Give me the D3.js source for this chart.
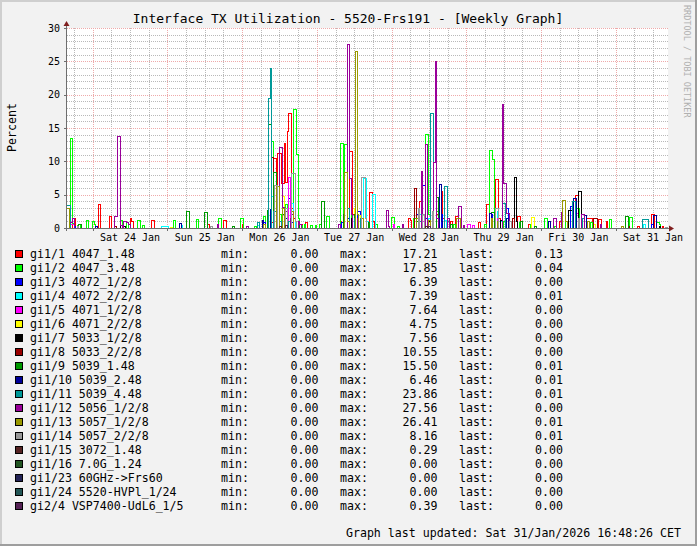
<!DOCTYPE html>
<html><head><meta charset="utf-8">
<script src="https://cdn.jsdelivr.net/npm/d3@7"></script>
<style>
html,body{margin:0;padding:0;background:#f2f2f2;}
svg{display:block;font-family:"DejaVu Sans Mono",monospace;}
</style></head>
<body><svg id="c" width="697" height="546"></svg>
<script>
// ---------- DATA (hours relative to Sat 24 Jan 2026 00:00, 30-min bins; unlisted bins are 0) ----------
const title = "Interface TX Utilization - 5520-Frs191 - [Weekly Graph]";
const yLabel = "Percent";
const yTicks = [0, 5, 10, 15, 20, 25, 30];
const dayLabels = ["Sat 24 Jan","Sun 25 Jan","Mon 26 Jan","Tue 27 Jan","Wed 28 Jan","Thu 29 Jan","Fri 30 Jan","Sat 31 Jan"];
const names = ["gi1/1 4047_1.48","gi1/2 4047_3.48","gi1/3 4072_1/2/8","gi1/4 4072_2/2/8","gi1/5 4071_1/2/8","gi1/6 4071_2/2/8","gi1/7 5033_1/2/8","gi1/8 5033_2/2/8","gi1/9 5039_1.48","gi1/10 5039_2.48","gi1/11 5039_4.48","gi1/12 5056_1/2/8","gi1/13 5057_1/2/8","gi1/14 5057_2/2/8","gi1/15 3072_1.48","gi1/16 7.0G_1.24","gi1/23 60GHz->Frs60","gi1/24 5520-HVPl_1/24","gi2/4 VSP7400-UdL6_1/5"];
const colors = ["#ff0000","#00ff00","#0000ff","#00ffff","#ff00ff","#ffff00","#000000","#990000","#009900","#000099","#009999","#990099","#999900","#999999","#552222","#225522","#222255","#225555","#552255"];
const minVals = ["0.00","0.00","0.00","0.00","0.00","0.00","0.00","0.00","0.00","0.00","0.00","0.00","0.00","0.00","0.00","0.00","0.00","0.00","0.00"];
const maxVals = ["17.21","17.85","6.39","7.39","7.64","4.75","7.56","10.55","15.50","6.46","23.86","27.56","26.41","8.16","0.29","0.00","0.00","0.00","0.39"];
const lastVals = ["0.13","0.04","0.00","0.01","0.00","0.00","0.00","0.00","0.01","0.01","0.01","0.00","0.01","0.01","0.00","0.00","0.00","0.00","0.00"];
const footer = "Graph last updated: Sat 31/Jan/2026 16:48:26 CET";
const watermark = "RRDTOOL / TOBI OETIKER";

const s_gi1_1 = [[-6.5,1.5],[-6,1.5],[2,3.5],[5.5,1.7],[12,1.4],[12.5,1.0],[19,1.2],[19.5,1.2],[37,0.6],[42,1.1],[42.5,1.1],[48,0.5],[54.5,1.2],
 [57.5,0.8],[58,10.5],[58.5,10.5],[59,4.7],[59.5,11.2],[60,11.2],[60.5,6.7],[61,6.7],[61.5,12.7],[62,6.8],[62.5,14.5],[63,17.21],[63.5,17.21],[64,3.0],[64.5,1.5],[65,0.8],[66,1.0],[67,0.5],[68.5,0.8],
 [73,0.6],[79.5,1.0],[82.5,11.45],[83,11.45],[83.5,2.0],[85,1.5],[86,1.0],[89,5.35],[89.5,5.35],[90,1.0],
 [101.5,1.5],[102,1.2],[105,4.0],[110.5,2.0],[112,5.45],[112.5,1.5],[115,1.0],[116.5,1.7],[117,1.7],
 [124,0.8],[126.5,3.6],[127,3.6],[129.5,7.3],[130,7.3],[130.5,1.5],[134,1.0],[136.5,1.7],[137,1.7],[140,0.5],
 [150,1.0],[155,4.95],[155.5,4.95],[158.5,1.5],[159,1.5],[159.5,1.5],[160,1.5],[162.5,1.3],[163,1.3],[165,1.0],[175,0.3],[179.5,2.1],[180,2.1],[183,0.3],[184,0.13],[184.5,0.13]];
const s_gi1_2 = [[-7.5,1.2],[-7,13.45],[-6.5,0.7],[-5,0.4],[-4,0.5],[-2,1.2],[0,1.0],[0.5,0.6],[9,1.2],[11,0.8],[14.5,1.2],[15,1.2],[16,0.4],[26,1.2],[33.5,1.3],[40.5,1.4],[41,1.4],[47.5,1.4],[48,1.4],[52,0.3],
 [55,1.7],[57.5,13.0],[58,1.3],[60,2.0],[62,3.5],[64.5,17.85],[65,17.85],[65.5,11.0],[66,1.5],[67,0.4],[68,0.5],[70,0.4],[71.5,0.4],[73,0.5],
 [75,1.7],[75.5,1.7],[79.5,12.7],[80,12.7],[81,12.5],[81.5,12.5],[83,2.0],[86,1.5],[88,1.0],[91,0.5],[96,1.6],[96.5,1.6],
 [98,0.3],[103,1.5],[103.5,1.5],[107,14.0],[107.5,14.0],[108,2.0],[110.5,2.5],[113.5,1.0],[116,0.5],
 [126,0.6],[127.5,11.7],[128,11.7],[128.5,10.3],[129,2.0],[132,1.0],[137,0.8],[140.5,0.6],[145,1.5],[145.5,1.5],[148.5,0.3],
 [152,1.0],[155.5,2.95],[156,2.95],[160,0.8],[166,1.3],[172.5,1.55],[173,1.55],[181,0.9],[181.5,0.9],[182,0.5],[184,0.04],[184.5,0.04]];
const s_gi1_3 = [[-7.5,0.7],[-6,0.3],[55,0.8],[58,0.6],[63,4.5],[63.5,4.5],[64,0.8],[66,0.5],[80,0.8],[82,1.5],[85,2.45],[85.5,2.45],[88,1.0],[104,2.0],[106,6.39],[106.5,6.39],[107,1.5],[109,1.0],[112,2.0],[128,2.0],[129,1.2],[132.5,3.0],[133,3.0],[153.5,3.2],[154,3.2],[157,1.0],[179.5,0.5]];
const s_gi1_4 = [[22,0.3],[22.5,0.3],[23,0.3],[23.5,0.3],[24,0.3],[28.5,0.4],[53,0.4],[57.5,4.7],[58,1.5],[63.5,3.7],[64,3.7],[65,1.0],[83,1.5],[87,7.39],[87.5,7.39],[88,1.0],[90,5.0],[90.5,5.0],[105,2.0],[108,1.5],[113,1.2],[130,2.5],[131,1.0],[154,1.5],[155,1.0],[177,0.5],[184,0.01],[184.5,0.01]];
const s_gi1_5 = [[-7,0.6],[-6.5,0.6],[61.5,1.2],[63,7.64],[82,1.0],[96.5,0.5],[106,1.0],[120.5,0.6],[121,0.6],[122,0.4],[130,1.5],[155,2.2],[155.5,2.2],[157,0.6]];
const s_gi1_6 = [[25,0.1],[61,4.75],[84,3.0],[86,1.95],[108,1.2],[141,1.6],[141.5,1.6],[161,0.5]];
const s_gi1_7 = [[9,0.4],[10,0.3],[57,1.0],[62,1.5],[83,1.5],[108,1.0],[131,1.2],[135.5,7.56],[136,1.0],[153,2.7],[153.5,2.7],[156,5.45],[156.5,5.45],[157,1.0],[182,0.3]];
const s_gi1_8 = [[7,0.2],[57.5,10.55],[103.5,5.9],[135,1.5],[161,1.5],[161.5,1.5],[172,0.3]];
const s_gi1_9 = [[-7.5,0.5],[-4.5,0.6],[-4,0.6],[30,2.55],[30.5,2.55],[36,2.3],[36.5,2.3],[45,0.2],[56,2.7],[56.5,15.5],[57,15.5],[58,8.3],[58.5,8.3],[59,2.0],[61,2.0],[66,0.8],[73.5,4.05],[74,4.05],[80.5,2.0],[84,2.0],[86,1.5],[88.5,0.8],[104,1.0],[110.5,4.6],[111,1.5],[115,0.6],[128,2.3],[128.5,2.3],[133,1.5],[137.5,1.0],[142,0.3],[171,1.8],[171.5,1.8],[184,0.01],[184.5,0.01]];
const s_gi1_10 = [[-7.5,0.5],[1,0.3],[28,0.7],[54.5,1.1],[57,2.8],[62,1.5],[84,1.5],[86,1.0],[111.5,6.46],[112,1.0],[127.5,2.2],[133,1.5],[146.5,1.0],[154.5,4.5],[155,4.5],[158,1.95],[180,1.95],[180.5,1.95],[184,0.01],[184.5,0.01]];
const s_gi1_11 = [[-8.5,3.4],[-8,3.4],[-7.5,3.4],[53,0.8],[56.5,19.5],[57,23.86],[58,2.5],[58.5,2.5],[60,1.0],[63,1.0],[82,3.0],[84,1.5],[86,1.5],[105,1.0],[108.5,17.2],[109,17.2],[113,6.3],[113.5,6.3],[114,1.0],[131.5,3.7],[132,3.7],[154,4.05],[154.5,4.05],[157.5,1.5],[176.5,1.3],[177,1.3],[177.5,1.3],[178,1.3],[184,0.01],[184.5,0.01]];
const s_gi1_12 = [[-7.5,0.8],[-7,0.8],[-6.5,1.5],[7,1.8],[7.5,1.8],[8,13.8],[8.5,13.8],[9,0.4],[10,1.0],[10.5,1.0],[11,0.8],[11.5,0.6],[40,0.5],[49.5,0.3],[59,3.1],[60,12.05],[60.5,12.05],[61,3.1],[62,2.5],[63.5,1.5],[64,2.0],[66,1.0],[66.5,0.5],[79,0.5],[82,27.56],[82.5,7.5],[83,2.0],[85,1.5],[94.5,2.6],[95,0.3],[99.5,0.5],[105.5,8.55],[107,12.5],[109.5,9.8],[110,24.95],[110.5,1.5],[114,1.5],[117.5,3.2],[118,3.2],[119,0.4],[131.5,18.55],[132,6.7],[132.5,6.7],[133,2.2],[133.5,2.2],[148,1.5],[148.5,1.5],[150.5,2.4],[157,2.0],[157.5,2.0],[163,0.5]];
const s_gi1_13 = [[-8.5,3.0],[-8,3.0],[55,0.5],[59,6.2],[59.5,6.2],[61,3.0],[64,2.5],[81,8.3],[81.5,8.3],[82,1.0],[84.5,26.41],[85,2.0],[86.5,1.5],[104,1.5],[108,1.2],[117,1.4],[117.5,1.4],[128,1.5],[130,1.0],[151,4.2],[151.5,4.2],[152,1.0],[159,1.0],[170,0.3],[184,0.01],[184.5,0.01]];
const s_gi1_14 = [[-5,0.3],[38,0.2],[58.5,6.45],[59,6.45],[62,3.0],[64,8.16],[64.5,8.16],[65,1.0],[86.5,7.55],[87,7.55],[87.5,1.5],[104.5,2.9],[106,2.0],[109,2.5],[129.5,3.0],[130,3.0],[134,1.0],[156,1.5],[184,0.01],[184.5,0.01]];
const s_gi1_15 = [[60,0.29],[107,0.2]];
const s_gi1_16 = [];
const s_gi1_23 = [];
const s_gi1_24 = [];
const s_gi2_4 = [[62,0.39],[108,0.2]];
const seriesData = [s_gi1_1,s_gi1_2,s_gi1_3,s_gi1_4,s_gi1_5,s_gi1_6,s_gi1_7,s_gi1_8,s_gi1_9,s_gi1_10,s_gi1_11,s_gi1_12,s_gi1_13,s_gi1_14,s_gi1_15,s_gi1_16,s_gi1_23,s_gi1_24,s_gi2_4];

// ---------- LAYOUT ----------
const W = 697, H = 546;
const P = {l: 67, r: 668, t: 28, b: 228};
const base = Date.UTC(2026, 0, 24);
const tStart = base - 0.344 * 864e5;
const tEnd = Date.UTC(2026, 0, 31, 16, 48, 26);
const hToT = h => base + h * 3600e3;

const svg = d3.select("#c");
svg.append("rect").attr("width", W).attr("height", H).attr("fill", "#f2f2f2");
svg.append("rect").attr("x",0).attr("y",0).attr("width",W).attr("height",2).attr("fill","#cfcfcf");
svg.append("rect").attr("x",0).attr("y",0).attr("width",2).attr("height",H).attr("fill","#cfcfcf");
svg.append("rect").attr("x",W-2).attr("y",0).attr("width",2).attr("height",H).attr("fill","#9e9e9e");
svg.append("rect").attr("x",0).attr("y",H-2).attr("width",W).attr("height",2).attr("fill","#9e9e9e");

const x = d3.scaleUtc().domain([tStart, tEnd]).range([P.l, P.r]);
const y = d3.scaleLinear().domain([0, 30]).range([P.b, P.t]);

svg.append("rect").attr("x", P.l).attr("y", P.t).attr("width", P.r - P.l).attr("height", P.b - P.t).attr("fill", "#ffffff");

// grid: dotted lines built as 1px squares (on 1, off 1)
const grid = svg.append("g").attr("shape-rendering", "crispEdges");
const MINOR = "#b9b9b9", MAJOR = "#eeaaaa";
function hDots(v) {
  const yy = Math.round(y(v));
  let d = "";
  for (let xi = P.l; xi < P.r; xi += 2) d += `M${xi},${yy}h1v1h-1z`;
  return d;
}
function vDots(t) {
  const xx = Math.round(x(t));
  let d = "";
  for (let yi = P.t; yi < P.b; yi += 2) d += `M${xx},${yi}h1v1h-1z`;
  return d;
}
let minorD = "", majorD = "";
d3.range(1, 30).filter(v => v % 5 !== 0).forEach(v => minorD += hDots(v));
d3.utcHour.every(6).range(new Date(tStart), new Date(tEnd)).filter(d => d.getUTCHours() !== 0).forEach(d => minorD += vDots(d));
yTicks.filter(v => v > 0).forEach(v => majorD += hDots(v));
d3.utcDay.range(new Date(tStart), new Date(tEnd)).forEach(d => majorD += vDots(d));
grid.append("path").attr("d", minorD).attr("fill", MINOR);
grid.append("path").attr("d", majorD).attr("fill", MAJOR);

// ---------- series ----------
const clip = svg.append("defs").append("clipPath").attr("id", "pc");
clip.append("rect").attr("x", P.l).attr("y", P.t - 5).attr("width", P.r - P.l).attr("height", P.b - P.t + 6);
const bins = d3.range(-8.5, 185, 0.5);
const line = d3.line().x(d => x(d.t)).y(d => y(d.v)).curve(d3.curveStepAfter);
const gS = svg.append("g").attr("clip-path", "url(#pc)");
seriesData.forEach((arr, i) => {
  const m = new Map(arr.map(([h, v]) => [h, v]));
  const pts = bins.map(h => ({t: hToT(h), v: m.has(h) ? m.get(h) : 0}));
  pts.push({t: hToT(185), v: pts[pts.length - 1].v});
  gS.append("path").attr("d", line(pts)).attr("fill", "none").attr("stroke", colors[i])
    .attr("stroke-width", 1).attr("shape-rendering", "crispEdges");
});

// ---------- axes ----------
const ax = svg.append("g").attr("shape-rendering", "crispEdges");
const AX = "#6e6e6e";
ax.append("line").attr("x1", P.l - 0.5).attr("x2", P.l - 0.5).attr("y1", P.b + 3).attr("y2", P.t - 3).attr("stroke", AX);
ax.append("line").attr("x1", P.l - 3).attr("x2", P.r + 2).attr("y1", P.b + 0.5).attr("y2", P.b + 0.5).attr("stroke", AX);
yTicks.forEach(v => ax.append("line").attr("x1", P.l - 3).attr("x2", P.l).attr("y1", Math.round(y(v)) + 0.5).attr("y2", Math.round(y(v)) + 0.5).attr("stroke", AX));
d3.utcDay.range(new Date(tStart), new Date(tEnd)).forEach(d => {
  const xx = Math.round(x(d)) + 0.5;
  ax.append("line").attr("x1", xx).attr("x2", xx).attr("y1", P.b).attr("y2", P.b + 3).attr("stroke", AX);
});
svg.append("path").attr("d", `M${P.l - 3.5},${P.t - 2} L${P.l + 2.5},${P.t - 2} L${P.l - 0.5},${P.t - 7} Z`).attr("fill", "#801f1f");
svg.append("path").attr("d", `M${P.r + 1},${P.b - 2.5} L${P.r + 1},${P.b + 3.5} L${P.r + 6},${P.b + 0.5} Z`).attr("fill", "#801f1f");

yTicks.forEach(v => svg.append("text").attr("x", 60).attr("y", y(v) + 3.5).attr("text-anchor", "end")
  .attr("font-size", 10).attr("fill", "#000").text(v));
d3.utcDay.range(new Date(base), new Date(tEnd)).forEach((d, i) => {
  svg.append("text").attr("x", x(d3.utcHour.offset(d, 12))).attr("y", 240.5).attr("text-anchor", "middle")
    .attr("font-size", 10).attr("fill", "#000").text(dayLabels[i]);
});

svg.append("text").attr("x", 348).attr("y", 23).attr("text-anchor", "middle").attr("font-size", 13).text(title);
svg.append("text").attr("transform", "translate(15.5,127.5) rotate(-90)").attr("text-anchor", "middle").attr("font-size", 11.6).text(yLabel);
svg.append("text").attr("transform", "translate(684,5) rotate(90)").attr("font-size", 8.5).attr("fill", "#b0b0b0").text(watermark);

// ---------- legend ----------
const lg = svg.append("g").attr("font-size", 11.6).attr("fill", "#000");
names.forEach((n, i) => {
  const cy = 254 + 14 * i;
  lg.append("rect").attr("x", 15.5).attr("y", cy - 3.5).attr("width", 7).attr("height", 7).attr("fill", colors[i]).attr("stroke", "#000").attr("shape-rendering", "crispEdges");
  const by = cy + 4;
  lg.append("text").attr("x", 30).attr("y", by).text(n);
  lg.append("text").attr("x", 221).attr("y", by).text("min:");
  lg.append("text").attr("x", 318.5).attr("y", by).attr("text-anchor", "end").text(minVals[i]);
  lg.append("text").attr("x", 340).attr("y", by).text("max:");
  lg.append("text").attr("x", 437.5).attr("y", by).attr("text-anchor", "end").text(maxVals[i]);
  lg.append("text").attr("x", 459).attr("y", by).text("last:");
  lg.append("text").attr("x", 563).attr("y", by).attr("text-anchor", "end").text(lastVals[i]);
});
svg.append("text").attr("x", 681).attr("y", 537).attr("text-anchor", "end").attr("font-size", 11.6).text(footer);
</script></body></html>
